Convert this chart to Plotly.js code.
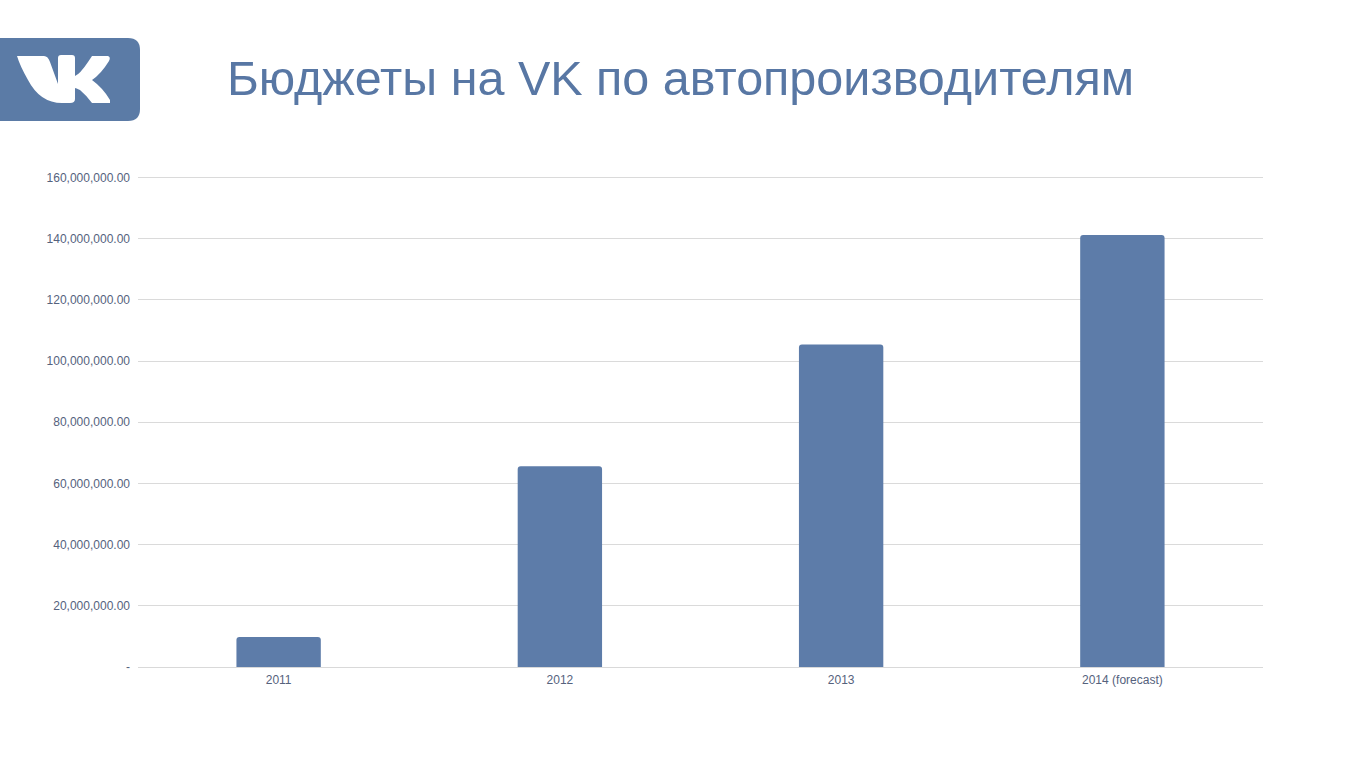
<!DOCTYPE html>
<html>
<head>
<meta charset="utf-8">
<script src="https://cdn.plot.ly/plotly-3.0.1.min.js"></script>
<style>
html,body{margin:0;padding:0;background:#fff;}
#chart{width:1361px;height:766px;}
</style>
</head>
<body>
<div id="chart"></div>
<script>
const categories = ["2011", "2012", "2013", "2014 (forecast)"];
const budgets = [9800000, 65600000, 105400000, 141200000];
const yTickValues = [0, 20000000, 40000000, 60000000, 80000000, 100000000, 120000000, 140000000, 160000000];
const yTickLabels = ["-", "20,000,000.00", "40,000,000.00", "60,000,000.00", "80,000,000.00", "100,000,000.00", "120,000,000.00", "140,000,000.00", "160,000,000.00"];
const chartTitle = "Бюджеты на VK по автопроизводителям";

const logoSvg = '<svg xmlns="http://www.w3.org/2000/svg" width="140" height="83" viewBox="0 38 140 83">' +
  '<path d="M-20,38 L128,38 Q140,38 140,50 L140,109 Q140,121 128,121 L-20,121 Z" fill="#5b7ba6"/>' +
  '<path d="M17,56 L44,56 Q48,56 50,62 L58,84 L58,58 Q58,55 61,55 L72,55 Q75,55 75,58 L75,76 Q80,74 88,62 L92,56 L108,56 Q111,57 109,61 Q101,74 92,80 Q103,88 110,100 L110,103 L92,103 Q86,95 80,90 Q76,88 75,88 L75,99 Q75,103 70,103 L62,103 Q40,103 28,80 Q20,66 17,56 Z" fill="#ffffff"/>' +
  '</svg>';
const logoSrc = 'data:image/svg+xml;charset=utf-8,' + encodeURIComponent(logoSvg);

const trace = {
  type: 'bar',
  x: categories,
  y: budgets,
  marker: {color: '#5d7ca9', cornerradius: 3},
  width: 0.3,
  hoverinfo: 'x+y'
};

const tickFont = {family: 'Liberation Sans, Arial, sans-serif', size: 12, color: '#55627d'};

const layout = {
  width: 1361,
  height: 766,
  margin: {l: 138, r: 98, t: 176, b: 99},
  paper_bgcolor: '#ffffff',
  plot_bgcolor: '#ffffff',
  showlegend: false,
  bargap: 0.7,
  title: {
    text: chartTitle,
    font: {family: 'Liberation Sans, Arial, sans-serif', size: 48.5, color: '#5877a4'},
    x: 0.5, xref: 'container', xanchor: 'center',
    y: 0.898, yref: 'container', yanchor: 'middle'
  },
  xaxis: {
    type: 'category',
    tickfont: tickFont,
    showgrid: false,
    showline: true,
    linecolor: '#d9d9d9',
    linewidth: 1,
    ticks: '',
    ticklabelstandoff: 2
  },
  yaxis: {
    range: [0, 160500000],
    tickvals: yTickValues,
    ticktext: yTickLabels,
    tickfont: tickFont,
    showgrid: true,
    gridcolor: '#dadada',
    gridwidth: 1,
    zeroline: false,
    showline: false,
    ticks: '',
    ticklabelstandoff: 7
  },
  images: [{
    source: logoSrc,
    xref: 'paper', yref: 'paper',
    x: -138/1125, y: (667-38)/491 * (491/491),
    sizex: 140/1125, sizey: 83/491,
    xanchor: 'left', yanchor: 'top',
    sizing: 'stretch',
    layer: 'above'
  }]
};

Plotly.newPlot('chart', [trace], layout, {displayModeBar: false, staticPlot: true});
</script>
</body>
</html>
